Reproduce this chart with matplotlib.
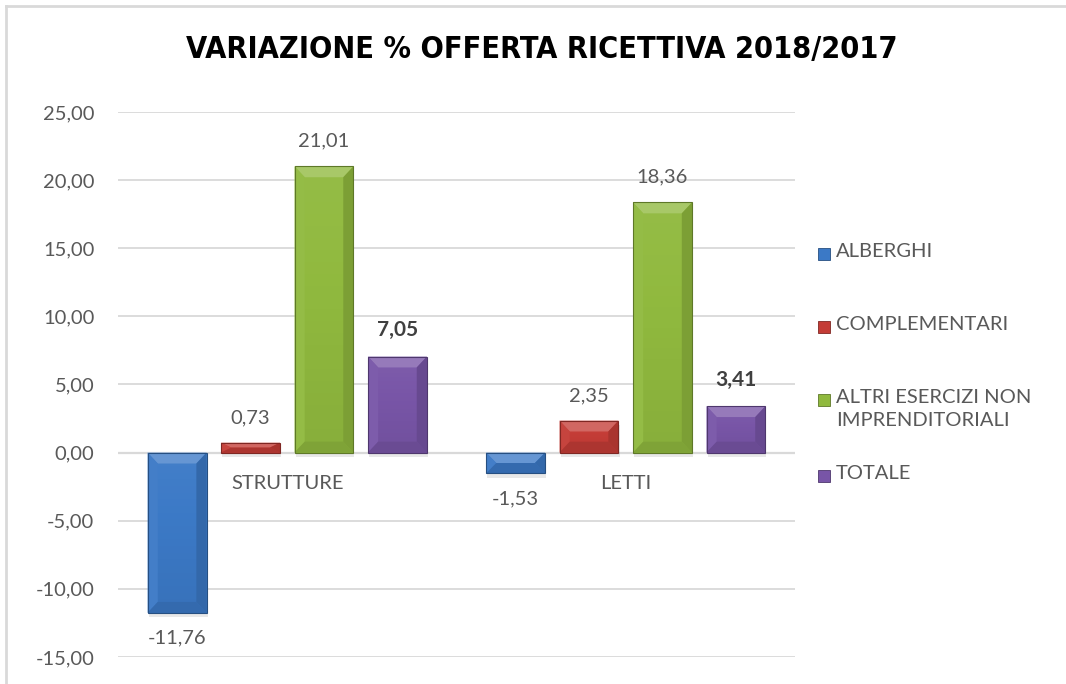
import numpy as np
import matplotlib
matplotlib.use("Agg")
import matplotlib.pyplot as plt
from matplotlib.patches import Polygon, Rectangle
import matplotlib.colors as mcolors

# Data
categories = ["STRUTTURE", "LETTI"]
series = ["ALBERGHI", "COMPLEMENTARI", "ALTRI ESERCIZI NON\nIMPRENDITORIALI", "TOTALE"]
alberghi = [-11.76, -1.53]
complementari = [0.73, 2.35]
altri = [21.01, 18.36]
totale = [7.05, 3.41]
values = [alberghi, complementari, altri, totale]
colors = ["#3b79c6", "#c43c36", "#90b93e", "#7855a7"]
bold_labels = [False, False, False, True]
yticks = [-15, -10, -5, 0, 5, 10, 15, 20, 25]

plt.rcParams["font.family"] = ["Lato", "DejaVu Sans"]
text_col = "#595959"


def shade(c, f):
    r, g, b = mcolors.to_rgb(c)
    if f >= 0:
        return (r + (1 - r) * f, g + (1 - g) * f, b + (1 - b) * f)
    return (r * (1 + f), g * (1 + f), b * (1 + f))


def bevel_bar(ax, x, w, v, col):
    top, bot = max(v, 0), min(v, 0)
    h = top - bot
    dy = min(0.8, h / 2)
    dx = min(0.03, w / 2)
    l, r = x - w / 2, x + w / 2
    # shadow
    ax.add_patch(Rectangle((l + 0.003, bot - 0.3), w, h, color="#000000",
                           alpha=0.09, lw=0, zorder=2))
    # body with a soft vertical gradient
    n = 24
    edges = np.linspace(bot, top, n + 1)
    for k in range(n):
        f = 0.10 * (k / (n - 1)) - 0.06
        ax.add_patch(Rectangle((l, edges[k]), w, edges[k + 1] - edges[k],
                               facecolor=shade(col, f), lw=0, zorder=3))
    # top bevel
    ax.add_patch(Polygon([(l, top), (r, top), (r - dx, top - dy), (l + dx, top - dy)],
                         closed=True, facecolor=shade(col, 0.22), lw=0, zorder=4))
    # left bevel
    ax.add_patch(Polygon([(l, top), (l + dx, top - dy), (l + dx, bot + dy), (l, bot)],
                         closed=True, facecolor=shade(col, 0.04), lw=0, zorder=4))
    # right bevel
    ax.add_patch(Polygon([(r, top), (r - dx, top - dy), (r - dx, bot + dy), (r, bot)],
                         closed=True, facecolor=shade(col, -0.14), lw=0, zorder=4))
    # bottom bevel
    ax.add_patch(Polygon([(l, bot), (r, bot), (r - dx, bot + dy), (l + dx, bot + dy)],
                         closed=True, facecolor=shade(col, -0.12), lw=0, zorder=4))
    ax.add_patch(Rectangle((l, bot), w, h, facecolor="none",
                           edgecolor=shade(col, -0.35), lw=0.8, zorder=5))


fig = plt.figure(figsize=(10.66, 6.84), dpi=100)
ax = fig.add_axes([0.1107, 0.0395, 0.6351, 0.7968])

x = np.arange(len(categories))
w = 0.174
step = 0.217
for i, (vals, col) in enumerate(zip(values, colors)):
    off = (i - 1.5) * step
    for xi, v in zip(x, vals):
        bevel_bar(ax, xi + off, w, v, col)
        lbl = f"{v:.2f}".replace(".", ",")
        if v >= 0:
            ax.annotate(lbl, (xi + off, v), xytext=(0, 12), textcoords="offset points",
                        ha="center", va="bottom", fontsize=15 if bold_labels[i] else 14.5,
                        color="#404040" if bold_labels[i] else text_col,
                        fontweight="bold" if bold_labels[i] else "normal")
        else:
            ax.annotate(lbl, (xi + off, v), xytext=(0, -12), textcoords="offset points",
                        ha="center", va="top", fontsize=14.5, color=text_col)

# category labels next to zero line
for xi, c in zip(x, categories):
    ax.annotate(c, (xi, 0), xytext=(0, -22), textcoords="offset points",
                ha="center", va="center", fontsize=14.5, color=text_col)

ax.set_xlim(-0.5, 1.5)
ax.set_ylim(-15, 25)
ax.set_yticks(yticks)
ax.set_yticklabels([f"{t:.2f}".replace(".", ",") for t in yticks], fontsize=14.5, color=text_col)
ax.set_xticks([])
ax.tick_params(axis="y", length=0, pad=17)
ax.grid(axis="y", color="#d9d9d9", lw=1.3, zorder=0)
ax.axhline(0, color="#d9d9d9", lw=1.6, zorder=1)
for s in ax.spines.values():
    s.set_visible(False)

fig.text(0.508, 0.927, "VARIAZIONE % OFFERTA RICETTIVA 2018/2017",
         family=["DejaVu Sans"], fontstretch="condensed", fontweight="bold",
         fontsize=22, ha="center", va="center", color="#000000")

# legend, drawn manually
leg_y = [254, 327, 400, 476]
for name, col, yp in zip(series, colors, leg_y):
    yf = 1 - yp / 684
    fig.patches.append(Rectangle((818 / 1066, yf - 6 / 684), 12 / 1066, 12 / 684,
                                 transform=fig.transFigure, facecolor=col,
                                 edgecolor=shade(col, -0.35), lw=0.6))
    fig.text(836 / 1066, yf + 11 / 684, name, ha="left", va="top", fontsize=14.5,
             color=text_col, linespacing=1.4)

# chart border
fig.add_artist(plt.Line2D([6 / 1066, 6 / 1066], [0, 1 - 6 / 684], color="#d9d9d9", lw=2,
                          transform=fig.transFigure))
fig.add_artist(plt.Line2D([6 / 1066, 1], [1 - 6 / 684, 1 - 6 / 684], color="#d9d9d9", lw=2,
                          transform=fig.transFigure))

fig.savefig("out.png", dpi=100)
